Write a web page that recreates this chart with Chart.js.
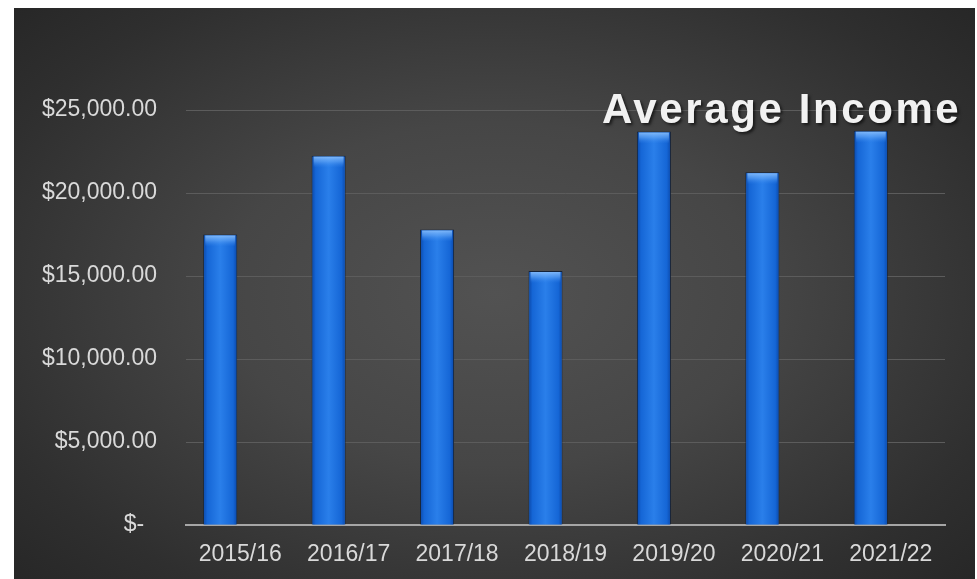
<!DOCTYPE html>
<html>
<head>
<meta charset="utf-8">
<script src="https://cdn.jsdelivr.net/npm/chart.js@4.4.1/dist/chart.umd.min.js"></script>
<style>
    html, body { margin: 0; padding: 0; background: #ffffff; }
    #panel {
        position: absolute;
        left: 14px; top: 8px;
        width: 961px; height: 571px;
        background: radial-gradient(ellipse 70% 75% at 50% 50%, #525252 0%, #464646 40%, #2f2f2f 80%, #262626 100%);
    }
</style>
</head>
<body>
<div id="panel"><canvas id="incomeChart"></canvas></div>
<script>
// chart data
const years = ['2015/16', '2016/17', '2017/18', '2018/19', '2019/20', '2020/21', '2021/22'];
const averageIncome = [17500, 22250, 17800, 15300, 23700, 21250, 23750];
const emptySeries = [null, null, null, null, null, null, null]; // second (empty) series, keeps bars off-centre
const yTickValues = [0, 5000, 10000, 15000, 20000, 25000];
const yTickLabels = ['$-  ', '$5,000.00', '$10,000.00', '$15,000.00', '$20,000.00', '$25,000.00'];
const chartTitle = 'Average Income';

const FONT = "'Liberation Sans', Arial, sans-serif";

// glossy look for the bars, drawn over the bar elements Chart.js placed
const glossPlugin = {
    id: 'gloss',
    afterDatasetsDraw(chart) {
        const ctx = chart.ctx;
        const meta = chart.getDatasetMeta(0);
        meta.data.forEach(bar => {
            const left = bar.x - bar.width / 2;
            const right = bar.x + bar.width / 2;
            const top = bar.y;
            const bottom = bar.base;
            ctx.save();
            const g = ctx.createLinearGradient(left, 0, right, 0);
            g.addColorStop(0, '#0a47a8');
            g.addColorStop(0.12, '#1566d6');
            g.addColorStop(0.5, '#2a7fea');
            g.addColorStop(0.88, '#1566d6');
            g.addColorStop(1, '#0a47a8');
            ctx.fillStyle = g;
            ctx.fillRect(left + 1, top + 1, bar.width - 2, bottom - top - 1);
            // top bevel
            const cap = ctx.createLinearGradient(0, top, 0, top + 12);
            cap.addColorStop(0, 'rgba(150,200,255,0.9)');
            cap.addColorStop(0.5, 'rgba(110,175,250,0.55)');
            cap.addColorStop(1, 'rgba(60,140,240,0)');
            ctx.fillStyle = cap;
            ctx.fillRect(left + 2, top + 1, bar.width - 4, 12);
            ctx.restore();
        });
    }
};

// title drawn inside the plot, top right
const titlePlugin = {
    id: 'cornerTitle',
    afterDraw(chart, args, opts) {
        const ctx = chart.ctx;
        ctx.save();
        ctx.font = 'bold 42px ' + FONT;
        ctx.letterSpacing = '2.6px';
        ctx.textAlign = 'left';
        ctx.textBaseline = 'alphabetic';
        ctx.shadowColor = 'rgba(0,0,0,0.6)';
        ctx.shadowOffsetX = 2;
        ctx.shadowOffsetY = 2;
        ctx.shadowBlur = 3;
        ctx.fillStyle = '#f2f2f2';
        ctx.fillText(opts.text, 588, 115);
        ctx.restore();
    }
};

new Chart(document.getElementById('incomeChart'), {
    type: 'bar',
    data: {
        labels: years,
        datasets: [{
            label: 'Average Income',
            data: averageIncome,
            backgroundColor: '#1f72e0',
            borderColor: '#14233a',
            borderWidth: 1,
            categoryPercentage: 0.738,
            barPercentage: 0.85
        }, {
            label: '',
            data: emptySeries,
            categoryPercentage: 0.738,
            barPercentage: 0.85
        }]
    },
    options: {
        responsive: true,
        maintainAspectRatio: false,
        animation: false,
        layout: { padding: { top: 102, right: 30, left: 0, bottom: 0 } },
        plugins: {
            legend: { display: false },
            tooltip: { enabled: false },
            cornerTitle: { text: chartTitle }
        },
        scales: {
            x: {
                grid: { display: false, drawTicks: false },
                border: { display: true, color: '#a6a6a6', width: 2 },
                ticks: {
                    color: '#d9d9d9',
                    font: { family: FONT, size: 23 },
                    padding: 16,
                    maxRotation: 0
                },
                afterFit(scale) { scale.height = 54; }
            },
            y: {
                min: 0,
                max: 25000,
                afterBuildTicks(scale) { scale.ticks = yTickValues.map(v => ({ value: v })); },
                grid: { color: '#5c5c5c', lineWidth: 1, drawTicks: false },
                border: { display: false },
                ticks: {
                    color: '#d9d9d9',
                    font: { family: FONT, size: 23 },
                    padding: 29,
                    callback: (value) => yTickLabels[yTickValues.indexOf(value)]
                },
                afterFit(scale) { scale.width = 172; }
            }
        }
    },
    plugins: [glossPlugin, titlePlugin]
});
</script>
</body>
</html>
